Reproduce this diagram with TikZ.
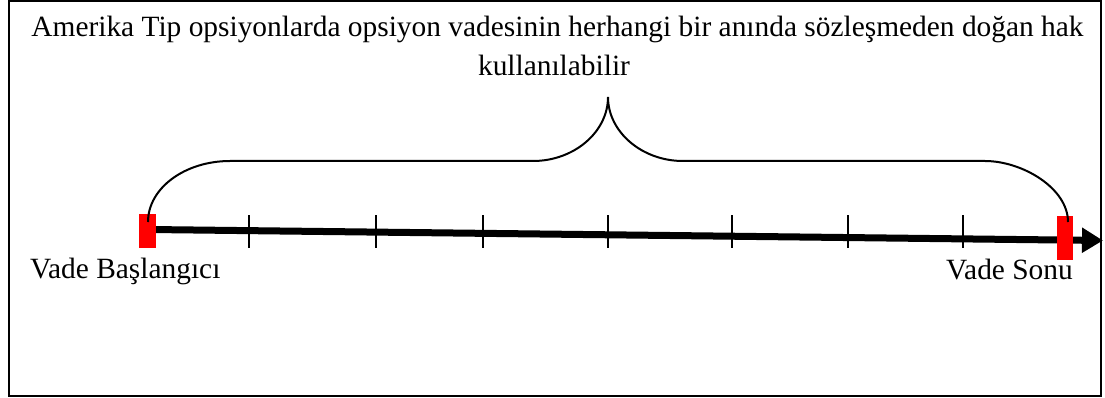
\documentclass[tikz,border=0pt]{standalone}
\usepackage{fontspec}
\setmainfont{Liberation Serif}
\usetikzlibrary{arrows.meta}
\begin{document}
\begin{tikzpicture}[x=1pt,y=-1pt,
  txt/.style={inner sep=0pt,anchor=base,font=\fontsize{29.4}{39}\selectfont},
  redmark/.style={fill=red,draw=none,inner sep=0pt,minimum width=17pt},
  tickmark/.style={line width=1.8pt},
  axisline/.style={line width=7pt,-{Triangle[length=21pt,width=24pt]}},
  bracecurve/.style={line width=2pt}]
\useasboundingbox (0,0) rectangle (1105,398);
\draw[line width=2pt] (9,1.5) rectangle (1101,395.5);
% title
\node[txt] (t1) at (557.5,37) {Amerika Tip opsiyonlarda opsiyon vadesinin herhangi bir anında sözleşmeden doğan hak};
\node[txt] (t2) at (554,76) {kullanılabilir};
% axis
\coordinate (start) at (150,229.5);
\coordinate (tip) at (1103,240.5);
\draw[axisline] (start) -- (tip);
% ticks
\foreach \xx/\nm in {249/a,376/b,483/c,608/d,732/e,848/f,963/g}{
  \coordinate (tk\nm) at (\xx,231.5);
  \draw[tickmark] (\xx,215) -- (\xx,248);
}
% red marks
\node[redmark,minimum height=34pt] (rl) at (147.5,231) {};
\node[redmark,minimum width=16pt,minimum height=44pt] (rr) at (1065,238) {};
% brace
\draw[bracecurve] (148,222) .. controls (148,188) and (185,161) .. (230,161)
  -- (533,161) .. controls (574,161) and (608,132) .. (608,97)
  .. controls (608,132) and (642,161) .. (683,161)
  -- (985,161) .. controls (1022,161) and (1068,188) .. (1068,222);
% labels
\node[txt,anchor=base west] (vb) at (30,278) {Vade Başlangıcı};
\node[txt,anchor=base east] (vs) at (1073,279) {Vade Sonu};
\end{tikzpicture}
\end{document}
